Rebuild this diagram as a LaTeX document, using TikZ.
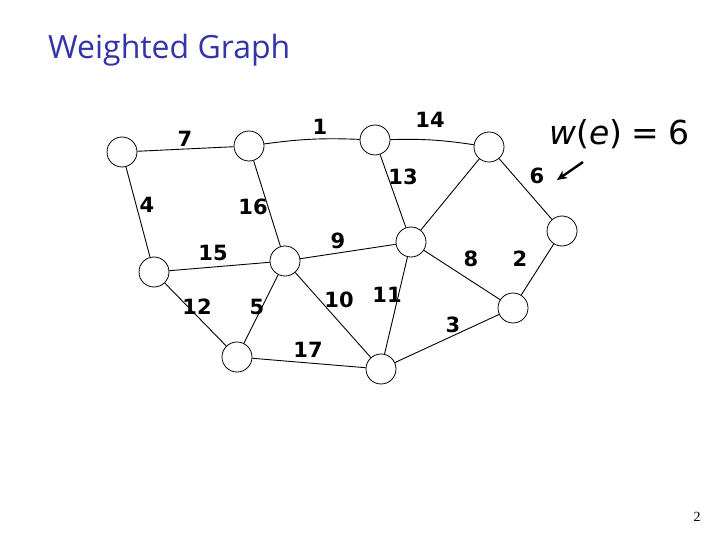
\documentclass[tikz,border=0pt]{standalone}
\usepackage{fontspec}
\usetikzlibrary{arrows.meta}
\setmainfont{DejaVu Sans}
\newfontfamily\titlefont{Open Sans}
\newfontfamily\pagefont{Liberation Serif}
\definecolor{titleblue}{RGB}{51,51,170}
\begin{document}
\begin{tikzpicture}[x=1pt,y=-1pt,
  vert/.style={circle,draw=black,line width=0.8pt,minimum size=30pt,inner sep=0pt,fill=white},
  edge/.style={line width=0.9pt,black},
  wlab/.style={font=\fontsize{21}{21}\selectfont\bfseries,text=black,inner sep=0pt}]
\useasboundingbox (0,0) rectangle (720,540);
\node[anchor=west,text=titleblue,font=\titlefont\fontsize{32}{32}\selectfont,inner sep=0pt] (title) at (48,50) {Weighted Graph};
% vertices
\node[vert] (A) at (122,152) {};
\node[vert] (B) at (249,146) {};
\node[vert] (C) at (375,140) {};
\node[vert] (D) at (489,147) {};
\node[vert] (E) at (562,231) {};
\node[vert] (F) at (154,272) {};
\node[vert] (G) at (285,261) {};
\node[vert] (H) at (411,242) {};
\node[vert] (I) at (513,308) {};
\node[vert] (J) at (237,357) {};
\node[vert] (K) at (381,369) {};
% edges
\draw[edge] (A) -- (B);
\draw[edge] (B) to[bend left=5] (C);
\draw[edge] (C) to[bend left=5] (D);
\draw[edge] (C) -- (H);
\draw[edge] (D) -- (H);
\draw[edge] (D) -- (E);
\draw[edge] (A) -- (F);
\draw[edge] (B) -- (G);
\draw[edge] (F) -- (G);
\draw[edge] (G) -- (H);
\draw[edge] (H) -- (I);
\draw[edge] (E) -- (I);
\draw[edge] (F) -- (J);
\draw[edge] (G) -- (J);
\draw[edge] (G) -- (K);
\draw[edge] (H) -- (K);
\draw[edge] (J) -- (K);
\draw[edge] (K) -- (I);
% weights
\node[wlab] (w7) at (185,139) {7};
\node[wlab] (w1) at (320,127) {1};
\node[wlab] (w14) at (430,120) {14};
\node[wlab] (w13) at (403,177) {13};
\node[wlab] (w6) at (537,176) {6};
\node[wlab] (w4) at (147,205) {4};
\node[wlab] (w16) at (253,207) {16};
\node[wlab] (w9) at (338,241) {9};
\node[wlab] (w15) at (213,253) {15};
\node[wlab] (w8) at (471,259) {8};
\node[wlab] (w2) at (520,259) {2};
\node[wlab] (w12) at (197,307) {12};
\node[wlab] (w5) at (257,307) {5};
\node[wlab] (w10) at (339,300) {10};
\node[wlab] (w11) at (387,295) {11};
\node[wlab] (w3) at (453,325) {3};
\node[wlab] (w17) at (308,350) {17};
% annotation
\node[anchor=west,font=\fontsize{33}{33}\selectfont,inner sep=0pt] (we) at (549,134) {\textit{w}(\textit{e})\;=\;6};
\coordinate (arrs) at (583,162);
\coordinate (arre) at (557,180);
\draw[line width=2.4pt,-{Stealth[length=10pt,width=9pt]}] (arrs) -- (arre);
\node[font=\pagefont\fontsize{14}{14}\selectfont,inner sep=0pt] (page) at (697,517) {2};
\end{tikzpicture}
\end{document}
